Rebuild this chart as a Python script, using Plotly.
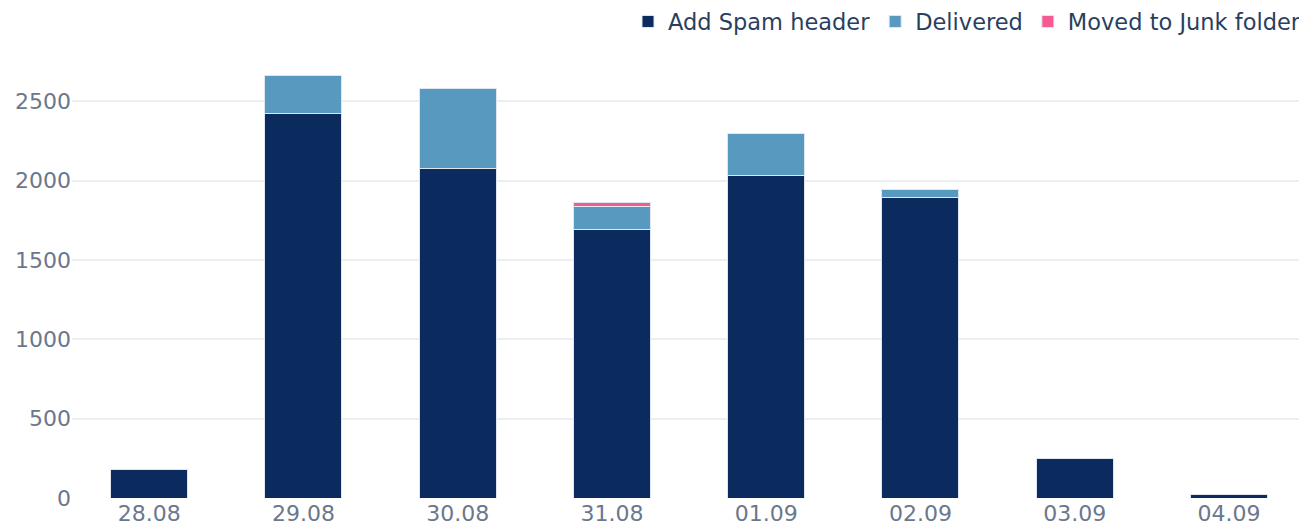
import plotly.graph_objects as go

dates = ["28.08", "29.08", "30.08", "31.08", "01.09", "02.09", "03.09", "04.09"]
spam_header = [180, 2425, 2080, 1690, 2030, 1895, 250, 25]
delivered = [0, 240, 500, 145, 270, 50, 0, 0]
junk = [0, 0, 0, 30, 0, 0, 0, 0]

series = [
    ("Add Spam header", spam_header, "#0b2a5e"),
    ("Delivered", delivered, "#5799bf"),
    ("Moved to Junk folder", junk, "#f45b93"),
]

fig = go.Figure()
for name, vals, color in series:
    fig.add_trace(go.Bar(
        x=dates, y=vals, name=name,
        marker=dict(color=color, line=dict(color="#dfe6ef", width=1)),
        width=0.5,
    ))

# page body adds an 8px offset; figure sized so the plot lands where the reference has it
fig.update_layout(
    barmode="stack",
    width=1299, height=517,
    margin=dict(l=64, r=1, t=45, b=27, autoexpand=False),
    paper_bgcolor="white", plot_bgcolor="white",
    font=dict(family="DejaVu Sans", size=22, color="#6b778c"),
    legend=dict(orientation="h", x=1.0, xanchor="right", y=1.07, yanchor="middle",
                font=dict(color="#2a3f5f", size=22.5), traceorder="normal"),
    xaxis=dict(showgrid=False, showline=False, ticks="", type="category", automargin=False),
    yaxis=dict(showgrid=True, gridcolor="#eceef2", gridwidth=2, zeroline=False,
               tickvals=[0, 500, 1000, 1500, 2000, 2500], automargin=False),
    showlegend=True,
)
fig.write_html("out.html")
